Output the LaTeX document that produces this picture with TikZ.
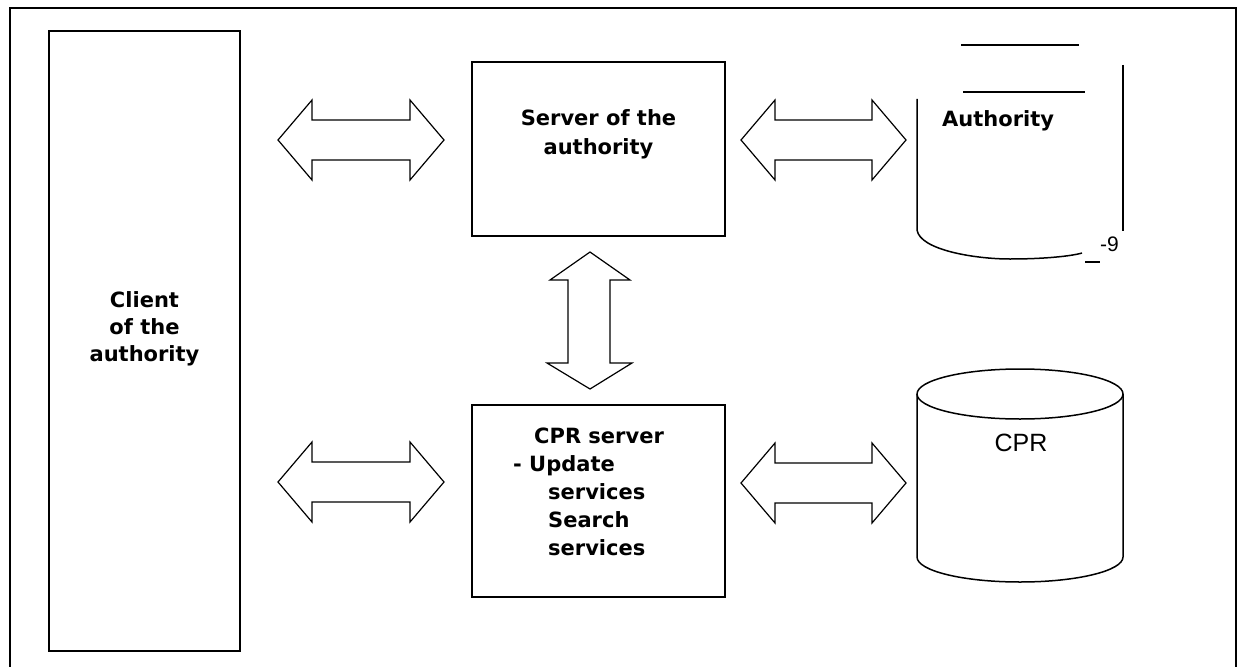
\documentclass[tikz,border=0pt]{standalone}
\usepackage{fontspec}
\usetikzlibrary{calc}
\newfontfamily\dvs{DejaVu Sans}
\newfontfamily\lsans{Liberation Sans}
\newcommand\dblH[2]{\draw[blk] (#1) -- ($(#1)+(34,-40)$) -- ($(#1)+(34,-20)$) -- ($(#2)+(-34,-20)$) -- ($(#2)+(-34,-40)$) -- (#2) -- ($(#2)+(-34,40)$) -- ($(#2)+(-34,20)$) -- ($(#1)+(34,20)$) -- ($(#1)+(34,40)$) -- cycle;}
\newcommand\dblV[2]{\draw[blk] (#1) -- ($(#1)+(40,28)$) -- ($(#1)+(20,28)$) -- ($(#2)+(20,-26)$) -- ($(#2)+(42,-26)$) -- (#2) -- ($(#2)+(-43,-26)$) -- ($(#2)+(-22,-26)$) -- ($(#1)+(-22,28)$) -- ($(#1)+(-40,28)$) -- cycle;}
\begin{document}
\begin{tikzpicture}[x=1pt,y=-1pt,
  frame/.style={line width=2.8pt},
  box/.style={draw, line width=1.9pt, inner sep=0pt},
  blk/.style={line width=1.2pt, line join=miter},
  cyl/.style={line width=1.5pt},
  lbl/.style={font=\dvs\bfseries\fontsize{21}{29}\selectfont, inner sep=0pt},
  lbs/.style={font=\lsans\fontsize{25}{29}\selectfont, inner sep=0pt}]
\useasboundingbox (0,0) rectangle (1238,666);
\draw[frame] (10,667) -- (10,8) -- (1236,8) -- (1236,667);
% boxes
\node[box, minimum width=191, minimum height=620] (client) at (144.5,341) {};
\node[box, minimum width=253, minimum height=174] (server) at (598.5,149) {};
\node[box, minimum width=253, minimum height=192] (cprsrv) at (598.5,501) {};
% client text
\node[lbl, anchor=base] (c1) at (144.5,307) {Client};
\node[lbl, anchor=base] (c2) at (144.5,334) {of the};
\node[lbl, anchor=base] (c3) at (144.5,361) {authority};
% server text
\node[lbl, anchor=base] (s1) at (598.5,125) {Server of the};
\node[lbl, anchor=base] (s2) at (598.5,154) {authority};
% cpr server text
\node[lbl, anchor=base west] (p1) at (534,443) {CPR server};
\node[lbl, anchor=base west] (p2) at (513,471) {- Update};
\node[lbl, anchor=base west] (p3) at (548,499) {services};
\node[lbl, anchor=base west] (p4) at (548,527) {Search};
\node[lbl, anchor=base west] (p5) at (548,555) {services};
% authority database (broken cylinder)
\draw[cyl] (961,45) -- (1079,45);
\draw[cyl] (963,92) -- (1085,92);
\draw[cyl] (917,99) -- (917,230) .. controls (920,250) and (975,259) .. (1010,259) .. controls (1045,259) and (1072,256) .. (1082,253);
\draw[cyl] (1123,65) -- (1123,231);
\draw[cyl] (1085,262) -- (1100,262);
\node[lbl, anchor=base west] (auth) at (942,127) {Authority};
\node[font=\lsans\fontsize{21}{23}\selectfont, inner sep=0pt, anchor=base west] (nine) at (1100,251) {-9};
% CPR database
\draw[cyl] (1020,394) ellipse [x radius=103, y radius=25];
\draw[cyl] (917,394) -- (917,557) .. controls (917,570.8) and (963.1,582) .. (1020,582) .. controls (1076.9,582) and (1123,570.8) .. (1123,557) -- (1123,394);
\node[lbs, anchor=base] (cpr) at (1021,451) {CPR};
% block arrows
\coordinate (a1l) at (278,140); \coordinate (a1r) at (444,140);
\coordinate (a2l) at (741,140); \coordinate (a2r) at (906,140);
\coordinate (a3l) at (278,482); \coordinate (a3r) at (444,482);
\coordinate (a4l) at (741,483); \coordinate (a4r) at (906,483);
\coordinate (vt) at (590,252); \coordinate (vb) at (590,389);
\dblH{a1l}{a1r}
\dblH{a2l}{a2r}
\dblH{a3l}{a3r}
\dblH{a4l}{a4r}
\dblV{vt}{vb}
\end{tikzpicture}
\end{document}
